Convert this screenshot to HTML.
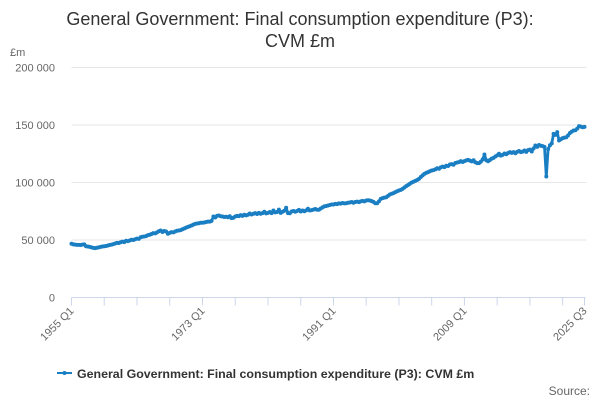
<!DOCTYPE html>
<html><head><meta charset="utf-8"><style>
body{margin:0;background:#fff;font-family:"Liberation Sans","DejaVu Sans",sans-serif}
svg{display:block}
</style></head><body>
<svg id="chart" width="600" height="400" xmlns="http://www.w3.org/2000/svg">
<text x="300" y="25" text-anchor="middle" font-size="18" fill="#333">General Government: Final consumption expenditure (P3):</text>
<text x="300" y="47" text-anchor="middle" font-size="18" fill="#333">CVM £m</text>
<text x="10" y="56" font-size="11" fill="#666">£m</text>
<g id="grid"></g><g id="xaxis"></g><g id="series"></g>
<g>
<line x1="57" y1="373" x2="72" y2="373" stroke="#1a7ec3" stroke-width="2"/>
<circle cx="64.5" cy="373" r="2" fill="#1a7ec3"/>
<text x="77" y="378" font-size="12.4" font-weight="bold" fill="#333">General Government: Final consumption expenditure (P3): CVM £m</text>
</g>
<text x="590" y="395" text-anchor="end" font-size="12" fill="#666">Source:</text>
</svg>
<script>
const yTicks=[0,50000,100000,150000,200000];
const yTickLabels=["0","50 000","100 000","150 000","200 000"];
const xLabels=["1955 Q1","1973 Q1","1991 Q1","2009 Q1","2025 Q3"];
const xLabelIdx=[0,72,144,216,282];
const values=[
46.7,46.2,46.0,45.8, 45.8,45.6,46.0,46.2, 44.6,44.3,44.0,43.6, 43.2,42.9,43.3,43.6,
44.0,44.3,44.6,44.8, 45.2,45.6,46.0,46.4, 47.0,47.5,47.4,48.0, 48.6,48.2,49.4,49.0,
49.6,50.2,50.0,50.7, 51.2,51.0,52.4,52.8, 53.0,53.4,54.2,54.6, 55.2,56.0,55.8,56.6,
57.6,58.3,57.0,57.8, 57.4,55.4,56.2,56.8, 56.6,57.4,58.0,58.3, 58.6,59.4,60.0,60.8,
61.4,62.0,62.6,63.4, 64.0,64.4,64.6,65.0, 65.0,65.2,65.6,66.0, 66.0,66.6,70.4,69.6,
71.0,71.3,70.6,70.4, 70.0,70.2,69.8,70.6, 69.0,69.4,70.4,71.0, 70.8,71.6,71.0,72.0,
71.4,72.0,73.0,72.2, 72.8,73.4,72.6,73.6, 72.8,73.4,74.6,73.2, 73.6,74.4,73.4,75.6,
74.0,74.4,76.4,73.6, 74.6,75.4,78.0,73.4, 73.3,74.8,75.2,74.6, 75.2,76.2,74.8,75.6,
75.0,75.8,77.2,75.6, 76.0,76.4,77.0,76.3, 76.3,77.4,78.4,79.2, 79.6,80.0,80.4,80.9,
80.9,81.4,81.2,81.8, 81.6,82.2,81.8,82.0, 82.4,82.6,83.0,82.4, 83.0,83.4,82.9,83.6,
84.0,83.6,84.3,84.6, 84.3,83.8,83.2,82.0, 82.0,83.6,85.8,86.4, 86.8,87.2,88.4,89.6,
90.2,90.8,91.6,92.4, 93.0,93.6,94.5,95.6, 96.8,97.8,98.9,100.0, 100.6,101.4,102.2,103.2,
104.8,106.2,107.5,108.4, 109.0,109.8,110.4,110.8, 111.4,112.4,112.0,113.2, 113.8,113.4,114.6,114.4,
115.6,116.0,115.4,117.0, 117.4,117.7,118.6,117.8, 118.6,119.2,119.7,119.0, 118.4,119.4,117.6,116.8,
116.8,118.0,120.0,124.3, 119.4,118.5,119.6,120.8, 121.4,122.6,123.6,125.0, 123.4,124.0,125.2,124.6,
125.6,126.4,125.8,126.4, 125.4,126.6,127.4,126.4, 126.8,127.8,126.6,128.2, 128.6,127.0,129.6,132.2,
131.0,132.6,132.0,131.6, 131.0,105.2,129.0,132.4, 134.0,142.3,141.4,143.8, 136.5,137.6,138.6,139.0,
139.4,141.0,143.0,144.2, 145.2,145.4,146.8,149.0, 148.6,148.0,148.4
].map(v=>v*1000);

const NS="http://www.w3.org/2000/svg";
const X0=71.5,X1=584.5,Y0=297.5,Y1=67.5,YMAX=200000;
const n=values.length;
const xs=i=>X0+(X1-X0)*i/(n-1);
const ys=v=>Y0-(Y0-Y1)*v/YMAX;
function mk(t,a){const e=document.createElementNS(NS,t);for(const k in a)e.setAttribute(k,a[k]);return e;}
const grid=document.getElementById('grid');
yTicks.forEach((t,i)=>{
  if(t>0){const l=mk('line',{x1:X0,x2:X1+2,y1:ys(t),y2:ys(t),stroke:'#e6e6e6','stroke-width':1});
  
  
  grid.appendChild(l);}
  const tx=mk('text',{x:55,y:ys(t)+4,'text-anchor':'end','font-size':11,fill:'#666'});
  
  
  tx.textContent=yTickLabels[i];grid.appendChild(tx);
});
const xa=document.getElementById('xaxis');
const ax=mk('line',{x1:X0,x2:X1+1,y1:Y0,y2:Y0,stroke:'#ccd6eb','stroke-width':1});


xa.appendChild(ax);
const tickIdx=[];for(let i=0;i<n;i+=18)tickIdx.push(i);tickIdx.push(n-1);
tickIdx.forEach(i=>{const t=mk('line',{x1:xs(i),x2:xs(i),y1:Y0,y2:Y0+8,stroke:'#ccd6eb'});
  
  
  xa.appendChild(t);});
xLabels.forEach((s,k)=>{const x=xs(xLabelIdx[k]),y=Y0+14;
  const t=mk('text',{x:x+3,y:y,'text-anchor':'end','font-size':11,fill:'#666',transform:`rotate(-45 ${x+3} ${y})`});
  
  
  t.textContent=s;xa.appendChild(t);});
const sg=document.getElementById('series');
const pts=values.map((v,i)=>xs(i).toFixed(2)+','+ys(v).toFixed(2)).join(' ');
const pl=mk('polyline',{points:pts,fill:'none',stroke:'#1a7ec3','stroke-width':2.8,'stroke-linejoin':'round'});


sg.appendChild(pl);
values.forEach((v,i)=>{const c=mk('circle',{cx:xs(i),cy:ys(v),r:2,fill:'#1a7ec3'});
  
  
  sg.appendChild(c);});
</script>
</body></html>
